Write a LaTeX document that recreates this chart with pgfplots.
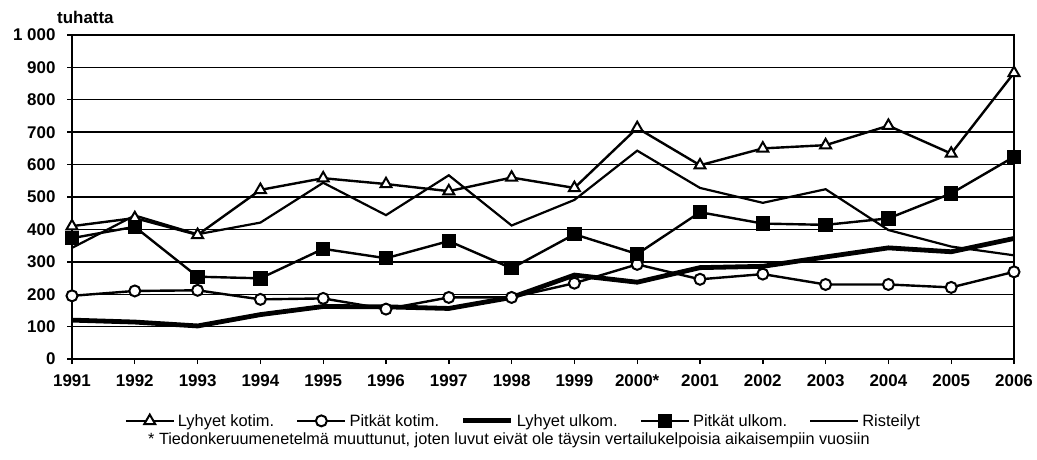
\documentclass[border=0pt]{standalone}
\usepackage{fontspec}
\setmainfont{Liberation Sans}
\usepackage{pgfplots}
\pgfplotsset{compat=1.18}
\begin{document}
\begin{tikzpicture}
\useasboundingbox (-72bp,-101bp) rectangle (965bp,359bp);
\begin{axis}[
  at={(0,0)}, anchor=south west,
  scale only axis, width=942bp, height=324bp,
  xmin=1991, xmax=2006, ymin=0, ymax=1000,
  clip=false,
  xtick={1991,1992,1993,1994,1995,1996,1997,1998,1999,2000,2001,2002,2003,2004,2005,2006},
  xticklabels={1991,1992,1993,1994,1995,1996,1997,1998,1999,2000*,2001,2002,2003,2004,2005,2006},
  ytick={0,100,200,300,400,500,600,700,800,900,1000},
  yticklabels={0,100,200,300,400,500,600,700,800,900,1 000},
  ymajorgrids, major grid style={black, line width=1.4bp},
  axis line style={line width=2.4bp},
  tick align=outside, major tick length=5bp,
  tick style={black, line width=1.4bp},
  xtick pos=bottom, ytick pos=left,
  ticklabel style={font=\fontsize{17}{17}\selectfont\bfseries},
  xticklabel style={yshift=-7bp},
  yticklabel style={xshift=-8bp},
  legend columns=5,
  legend cell align=left,
  legend style={draw=none, fill=none, at={(0.479,-0.191)}, anchor=center,
    font=\fontsize{16.5}{16.5}\selectfont, inner sep=0pt,
    /tikz/every odd column/.append style={column sep=1bp},
    /tikz/every even column/.append style={column sep=20bp}},
  legend image code/.code={\draw[mark repeat=2,mark phase=2] plot coordinates {(0bp,0bp) (24bp,0bp) (48bp,0bp)};},
]
\addplot[black, line width=2.4bp, mark=triangle*, mark size=6.3bp, mark options={fill=white, solid, line width=2bp}] coordinates {
(1991,410) (1992,435) (1993,383) (1994,522) (1995,558) (1996,540) (1997,518) (1998,560)
(1999,528) (2000,713) (2001,598) (2002,650) (2003,660) (2004,720) (2005,634) (2006,883)};
\addlegendentry{Lyhyet kotim.}
\addplot[black, line width=2.4bp, mark=*, mark size=5.5bp, mark options={fill=white, solid, line width=2bp}] coordinates {
(1991,195) (1992,210) (1993,212) (1994,184) (1995,187) (1996,154) (1997,190) (1998,190)
(1999,234) (2000,292) (2001,246) (2002,262) (2003,230) (2004,230) (2005,221) (2006,269)};
\addlegendentry{Pitkät kotim.}
\addplot[black, line width=4.8bp] coordinates {
(1991,120) (1992,114) (1993,102) (1994,137) (1995,162) (1996,161) (1997,156) (1998,190)
(1999,259) (2000,237) (2001,282) (2002,286) (2003,315) (2004,343) (2005,331) (2006,372)};
\addlegendentry{Lyhyet ulkom.}
\addplot[black, line width=2.4bp, mark=square*, mark size=6bp, mark options={fill=black, solid}] coordinates {
(1991,373) (1992,408) (1993,254) (1994,249) (1995,340) (1996,311) (1997,364) (1998,280)
(1999,385) (2000,324) (2001,453) (2002,418) (2003,414) (2004,434) (2005,511) (2006,624)};
\addlegendentry{Pitkät ulkom.}
\addplot[black, line width=2.2bp] coordinates {
(1991,343) (1992,443) (1993,385) (1994,421) (1995,544) (1996,444) (1997,567) (1998,412)
(1999,491) (2000,643) (2001,528) (2002,482) (2003,524) (2004,398) (2005,347) (2006,320)};
\addlegendentry{Risteilyt}
\end{axis}
\node[font=\bfseries\fontsize{17}{17}\selectfont, anchor=base west, inner sep=0pt] at (-15bp,335bp) {tuhatta};
\node[font=\fontsize{16.3}{16.3}\selectfont, anchor=west, inner sep=0pt] at (76bp,-81bp) {* Tiedonkeruumenetelmä muuttunut, joten luvut eivät ole täysin vertailukelpoisia aikaisempiin vuosiin};
\end{tikzpicture}
\end{document}
